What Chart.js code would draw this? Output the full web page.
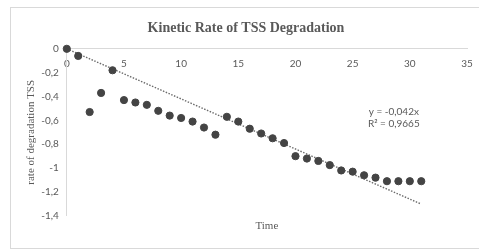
<!DOCTYPE html>
<html>
<head>
<meta charset="utf-8">
<script src="https://cdn.jsdelivr.net/npm/chart.js@4/dist/chart.umd.min.js"></script>
<style>
  body { margin: 0; background: #fff; }
  #wrap { position: relative; width: 479px; height: 250px; }
  #frame { position: absolute; left: 10px; top: 7px; width: 480px; height: 240px; border: 1px solid #d9d9d9; pointer-events: none; }
</style>
</head>
<body>
<div id="wrap">
  <canvas id="chart" width="479" height="250"></canvas>
  <div id="frame"></div>
</div>
<script>
// measured points (time, rate)
const times = [0, 1, 2, 3, 4, 5, 6, 7, 8, 9, 10, 11, 12, 13, 14, 15, 16, 17, 18, 19, 20, 21, 22, 23, 24, 25, 26, 27, 28, 29, 30, 31];
const rates = [0, -0.06, -0.53, -0.37, -0.18, -0.43, -0.45, -0.47, -0.52, -0.56, -0.58, -0.61, -0.66, -0.72, -0.57, -0.61, -0.67, -0.71, -0.75, -0.79, -0.90, -0.92, -0.94, -0.975, -1.02, -1.03, -1.06, -1.08, -1.11, -1.11, -1.11, -1.11];
// linear trendline endpoints
const trendX = [0, 31];
const trendY = [0, -1.302];
const eqLines = ["y = -0,042x", "R² = 0,9665"];

const grey = "#595959";
const fmt = v => String(Math.round(v * 10) / 10).replace(".", ",");

const eqLabel = {
  id: "eqLabel",
  afterDatasetsDraw(chart) {
    const { ctx, scales } = chart;
    const x = scales.x.getPixelForValue(28.6);
    const y = scales.y.getPixelForValue(-0.53);
    ctx.save();
    ctx.font = "10px Lato";
    ctx.fillStyle = grey;
    ctx.textAlign = "center";
    ctx.textBaseline = "middle";
    ctx.fillText(eqLines[0], x, y);
    ctx.fillText(eqLines[1], x, y + 12);
    ctx.restore();
  }
};

new Chart(document.getElementById("chart"), {
  type: "scatter",
  data: {
    datasets: [{
      label: "rate",
      data: times.map((t, i) => ({ x: t, y: rates[i] })),
      backgroundColor: "#444",
      borderColor: "#444",
      pointRadius: 3.6,
      pointHoverRadius: 3.6,
      clip: false
    }, {
      label: "trend",
      type: "line",
      data: trendX.map((t, i) => ({ x: t, y: trendY[i] })),
      borderColor: "#6b6b6b",
      borderWidth: 1.4,
      borderDash: [1.5, 1.5],
      pointRadius: 0,
      fill: false
    }]
  },
  options: {
    responsive: false,
    animation: false,
    layout: { padding: { left: 25, right: 12, top: 8, bottom: 13 } },
    plugins: {
      legend: { display: false },
      tooltip: { enabled: false },
      title: {
        display: true,
        text: "Kinetic Rate of TSS Degradation",
        color: grey,
        font: { family: "Liberation Serif", size: 14, weight: "bold" },
        padding: { top: 12, bottom: 12 }
      }
    },
    scales: {
      x: {
        type: "linear",
        position: { y: 0 },
        min: 0, max: 35,
        ticks: { stepSize: 5, color: grey, font: { family: "Lato", size: 10 }, padding: 9 },
        grid: { display: false, drawTicks: false },
        border: { display: true, color: "#d9d9d9" },
        afterFit(scale) { scale.height = 0; scale.paddingRight = 0; scale.paddingLeft = 0; }
      },
      x2: {
        type: "linear",
        axis: "x",
        position: "bottom",
        min: 0, max: 35,
        ticks: { display: false },
        grid: { display: false, drawTicks: false },
        border: { display: false },
        title: { display: true, text: "Time", color: grey, font: { family: "Liberation Serif", size: 11 }, padding: { top: 4, bottom: 4 } },
        afterFit(scale) { scale.paddingRight = 0; scale.paddingLeft = 0; }
      },
      y: {
        min: -1.4, max: 0,
        ticks: { stepSize: 0.2, color: grey, font: { family: "Lato", size: 10 }, padding: 8, callback: v => fmt(v) },
        grid: { display: false, drawTicks: false },
        border: { display: true, color: "#d9d9d9" },
        title: { display: true, text: "rate of degradation TSS", color: grey, font: { family: "Liberation Serif", size: 11 }, padding: { top: 0, bottom: 2 } },
        afterFit(scale) { scale.width -= 7; }
      }
    }
  },
  plugins: [eqLabel]
});
</script>
</body>
</html>
